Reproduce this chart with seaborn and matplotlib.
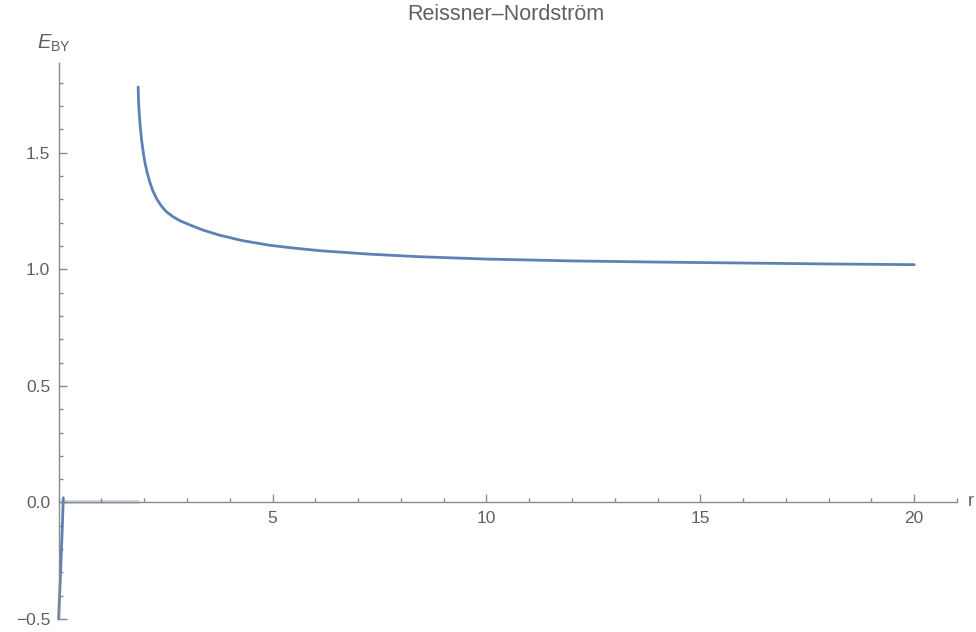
import matplotlib
matplotlib.use("Agg")
import matplotlib.pyplot as plt
from matplotlib.ticker import MultipleLocator, FixedLocator, FuncFormatter
import seaborn as sns
import pandas as pd

# ---- data ----
r_outer = [1.86, 1.865, 1.875, 1.885, 1.91, 1.94, 1.98, 2.02, 2.07, 2.13, 2.20, 2.29,
           2.40, 2.52, 2.67, 2.84, 3.10, 3.38, 3.77, 4.30, 4.94, 5.50, 6.10, 7.27,
           8.44, 10.0, 12.0, 14.0, 16.0, 18.0, 20.0]
e_outer = [1.782, 1.74, 1.70, 1.668, 1.61, 1.554, 1.50, 1.456, 1.415, 1.375, 1.338,
           1.303, 1.272, 1.247, 1.226, 1.208, 1.188, 1.168, 1.146, 1.123, 1.103, 1.091,
           1.080, 1.065, 1.054, 1.044, 1.036, 1.031, 1.027, 1.023, 1.020]
r_inner = [0.0, 0.04, 0.08, 0.11]
e_inner = [-0.50, -0.33, -0.14, 0.02]
r_between = [0.11, 1.86]
e_between = [0.0, 0.0]

x_major = [5, 10, 15, 20]
y_major = [-0.5, 0.0, 0.5, 1.0, 1.5]
title = "Reissner\u2013Nordstr\u00f6m"

sns.set_style("white")
plt.rcParams["font.family"] = ["Liberation Sans", "DejaVu Sans"]
plt.rcParams["mathtext.fontset"] = "custom"
plt.rcParams["mathtext.rm"] = "Liberation Sans"
plt.rcParams["mathtext.it"] = "Liberation Sans:italic"

LINE = "#5E81B5"
AXC = "#8a8a8a"
TXT = "#606060"

fig = plt.figure(figsize=(9.76, 6.32), dpi=100)
ax = fig.add_axes([58.6 / 976, (632 - 619) / 632, (957 - 58.6) / 976, (619 - 63) / 632])

df_out = pd.DataFrame({"r": r_outer, "E": e_outer})
df_in = pd.DataFrame({"r": r_inner, "E": e_inner})
df_bt = pd.DataFrame({"r": r_between, "E": e_between})

sns.lineplot(data=df_bt, x="r", y="E", ax=ax, color=LINE, lw=3.0, alpha=0.3,
             sort=False, estimator=None)
sns.lineplot(data=df_out, x="r", y="E", ax=ax, color=LINE, lw=2.0,
             sort=False, estimator=None)
sns.lineplot(data=df_in, x="r", y="E", ax=ax, color=LINE, lw=2.0,
             sort=False, estimator=None, clip_on=False)

ax.set_xlim(0, 21.0)
ax.set_ylim(-0.5, 1.885)

for s in ["top", "right"]:
    ax.spines[s].set_visible(False)
ax.spines["left"].set_position(("data", 0))
ax.spines["bottom"].set_position(("data", 0))
for s in ["left", "bottom"]:
    ax.spines[s].set_color(AXC)
    ax.spines[s].set_linewidth(1.0)

ax.xaxis.set_major_locator(FixedLocator(x_major))
ax.xaxis.set_minor_locator(MultipleLocator(1))
ax.yaxis.set_major_locator(FixedLocator(y_major))
ax.yaxis.set_minor_locator(MultipleLocator(0.1))
ax.xaxis.set_major_formatter(FuncFormatter(lambda v, p: f"{v:g}"))
ax.yaxis.set_major_formatter(FuncFormatter(lambda v, p: f"{v:.1f}".replace("-", "\u2212")))

ax.tick_params(which="major", direction="in", length=5.5, width=1.0, color=AXC,
               labelsize=12.5, labelcolor=TXT, pad=6)
ax.tick_params(which="minor", direction="in", length=3.0, width=1.0, color=AXC)
ax.tick_params(axis="y", which="both", left=True)
ax.tick_params(axis="x", which="both", bottom=True)

ax.set_xlabel("")
ax.set_ylabel("")
ax.grid(False)

fig.text(506 / 976, 1 - 14 / 632, title, ha="center", va="center", fontsize=15.5,
         color=TXT)
fig.text(37 / 976, 1 - 43 / 632, r"$E_{\mathrm{BY}}$", ha="left", va="center",
         fontsize=14.5, color=TXT)
fig.text(968 / 976, 1 - 502 / 632, "r", ha="left", va="center", fontsize=13,
         color=TXT)

fig.savefig("out.png", dpi=100)
